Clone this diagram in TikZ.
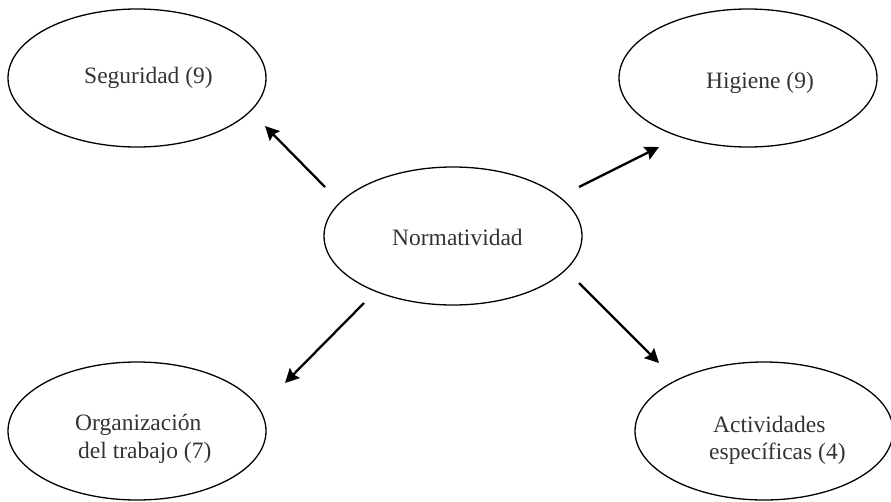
\documentclass[tikz,border=0pt]{standalone}
\usepackage{fontspec}
\setmainfont{Liberation Serif}
\usetikzlibrary{arrows.meta,shapes.geometric}
\definecolor{txt}{HTML}{333333}
\begin{document}
\begin{tikzpicture}[x=1pt,y=-1pt,
  oval/.style={draw=black,line width=1.3pt,ellipse,minimum width=258pt,minimum height=138pt,inner sep=0pt},
  lbl/.style={anchor=base west,inner sep=0pt,text=txt,font=\fontsize{23.5pt}{28pt}\selectfont},
  arr/.style={line width=2.3pt,-{Stealth[length=14pt,width=14pt,inset=2pt]}}]
\useasboundingbox (0,0) rectangle (891,501);
\node[oval] (seg) at (137,78) {};
\node[oval] (hig) at (748,78) {};
\node[oval] (nor) at (453,236) {};
\node[oval] (org) at (137,431) {};
\node[oval] (act) at (764,431) {};
\node[lbl] (tseg) at (84,83) {Seguridad (9)};
\node[lbl] (thig) at (706,88) {Higiene (9)};
\node[lbl] (tnor) at (392,245) {Normatividad};
\node[lbl] (torg1) at (75,430) {Organización};
\node[lbl] (torg2) at (78,458) {del trabajo (7)};
\node[lbl] (tact1) at (713,432) {Actividades};
\node[lbl] (tact2) at (709,459) {específicas (4)};
\coordinate (a1s) at (325,187); \coordinate (a1e) at (265,126);
\coordinate (a2s) at (579,187); \coordinate (a2e) at (659,147);
\coordinate (a3s) at (364,303); \coordinate (a3e) at (285,383);
\coordinate (a4s) at (579,283); \coordinate (a4e) at (659,363);
\draw[arr] (a1s) -- (a1e);
\draw[arr] (a2s) -- (a2e);
\draw[arr] (a3s) -- (a3e);
\draw[arr] (a4s) -- (a4e);
\end{tikzpicture}
\end{document}
